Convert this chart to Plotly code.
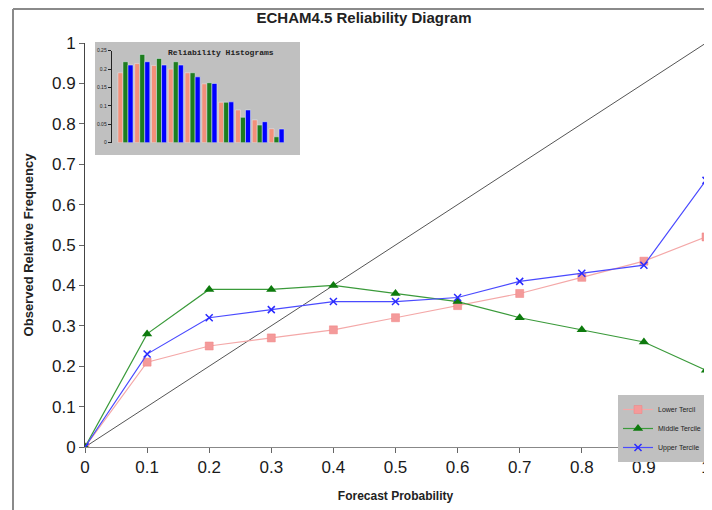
import plotly.graph_objects as go

# ---- data ----
forecast_prob = [0, 0.1, 0.2, 0.3, 0.4, 0.5, 0.6, 0.7, 0.8, 0.9, 1.0]
lower_tercile = [0, 0.21, 0.25, 0.27, 0.29, 0.32, 0.35, 0.38, 0.42, 0.46, 0.52]
middle_tercile = [0, 0.28, 0.39, 0.39, 0.40, 0.38, 0.36, 0.32, 0.29, 0.26, 0.19]
upper_tercile = [0, 0.23, 0.32, 0.34, 0.36, 0.36, 0.37, 0.41, 0.43, 0.45, 0.66]

hist_bins = [1, 2, 3, 4, 5, 6, 7, 8, 9, 10]
hist_lower = [0.19, 0.215, 0.21, 0.20, 0.19, 0.16, 0.11, 0.089, 0.062, 0.038]
hist_middle = [0.22, 0.24, 0.229, 0.22, 0.19, 0.163, 0.11, 0.069, 0.048, 0.016]
hist_upper = [0.211, 0.22, 0.211, 0.211, 0.179, 0.161, 0.111, 0.089, 0.057, 0.037]

y_ticks = [0, 0.1, 0.2, 0.3, 0.4, 0.5, 0.6, 0.7, 0.8, 0.9, 1]
x_ticks = [0, 0.1, 0.2, 0.3, 0.4, 0.5, 0.6, 0.7, 0.8, 0.9, 1]
hist_ticks = [0, 0.05, 0.1, 0.15, 0.2, 0.25]

# the page body has an 8px margin, so the figure is offset inside the window
OFF = 8
W, H = 712 - OFF, 510 - OFF
# plot area in window pixels: x 85..706, y 43..447
L = 85 - OFF
R = W - (706 - OFF)
T = 43 - OFF
B = H - (447 - OFF)
pw, ph = W - L - R, H - T - B


def px(x):
    """window pixel x -> paper x"""
    return (x - OFF - L) / pw


def py(y):
    """window pixel y -> paper y"""
    return (H - B - (y - OFF)) / ph


FONT = "Liberation Sans, Arial, sans-serif"

fig = go.Figure()

# perfect reliability diagonal
fig.add_trace(go.Scatter(x=[0, 1], y=[0, 1], mode="lines",
                         line=dict(color="#555555", width=1),
                         showlegend=False, hoverinfo="skip"))

fig.add_trace(go.Scatter(x=forecast_prob, y=lower_tercile, mode="lines+markers",
                         name="Lower Tercil",
                         line=dict(color="#f4a8a8", width=1.2),
                         marker=dict(symbol="square", size=8, color="#f49a9a",
                                     line=dict(color="#f08080", width=0.5))))
fig.add_trace(go.Scatter(x=forecast_prob, y=middle_tercile, mode="lines+markers",
                         name="Middle Tercile",
                         line=dict(color="#3a9a3a", width=1.2),
                         marker=dict(symbol="triangle-up", size=9, color="#0d7a0d")))
fig.add_trace(go.Scatter(x=forecast_prob, y=upper_tercile, mode="lines+markers",
                         name="Upper Tercile",
                         line=dict(color="#4a4aff", width=1.2),
                         marker=dict(symbol="x-thin", size=7, color="#2a2aff",
                                     line=dict(color="#2a2aff", width=1.5))))

# inset histogram
fig.add_trace(go.Bar(x=hist_bins, y=hist_lower, marker_color="#f2907a",
                     xaxis="x2", yaxis="y2", showlegend=False))
fig.add_trace(go.Bar(x=hist_bins, y=hist_middle, marker_color="#1e7d1e",
                     xaxis="x2", yaxis="y2", showlegend=False))
fig.add_trace(go.Bar(x=hist_bins, y=hist_upper, marker_color="#0000ff",
                     xaxis="x2", yaxis="y2", showlegend=False))

shapes = [
    # outer frame lines
    dict(type="line", xref="paper", yref="paper", x0=px(13), x1=px(712), y0=py(9), y1=py(9),
         line=dict(color="#8a8a8a", width=2)),
    dict(type="line", xref="paper", yref="paper", x0=px(13), x1=px(13), y0=py(9), y1=py(510),
         line=dict(color="#8a8a8a", width=2)),
    # right border of plot
    dict(type="line", xref="paper", yref="paper", x0=1, x1=1, y0=0, y1=1,
         line=dict(color="#cccccc", width=1)),
    # inset background
    dict(type="rect", xref="paper", yref="paper", x0=px(95), x1=px(300), y0=py(155), y1=py(42),
         fillcolor="#c0c0c0", line=dict(width=0), layer="below"),
]

fig.update_layout(
    width=W, height=H,
    margin=dict(l=L, r=R, t=T, b=B, autoexpand=False),
    paper_bgcolor="white", plot_bgcolor="rgba(0,0,0,0)",
    font=dict(family=FONT, color="#222222"),
    title=dict(text="<b>ECHAM4.5 Reliability Diagram</b>", x=(364 - OFF) / W, xref="container",
               xanchor="center", y=1 - (18 - OFF) / H, yanchor="middle",
               font=dict(size=15, color="#222222")),
    xaxis=dict(range=[0, 1], tickvals=x_ticks, ticktext=[f"{v:g}" for v in x_ticks],
               showgrid=False, zeroline=False, showline=True, linecolor="#888888",
               ticks="outside", ticklen=5, tickcolor="#666666", automargin=False,
               tickfont=dict(size=17, color="#1a1a1a"),
               title=dict(text="<b>Forecast Probability</b>", font=dict(size=12))),
    yaxis=dict(range=[0, 1], tickvals=y_ticks, ticktext=[f"{v:g}" for v in y_ticks],
               showgrid=False, zeroline=False, showline=True, linecolor="#444444",
               ticks="outside", ticklen=5, tickcolor="#666666", automargin=False,
               tickfont=dict(size=17, color="#1a1a1a"),
               title=dict(text="<b>Observed Relative Frequency</b>", font=dict(size=13))),
    xaxis2=dict(domain=[px(111.7), px(288.3)], range=[0.18, 10.7], anchor="y2",
                showticklabels=False, showgrid=False, zeroline=False,
                showline=False, ticks="", automargin=False),
    yaxis2=dict(domain=[py(142.7), py(50.7)], range=[0, 0.25], anchor="x2",
                tickvals=hist_ticks, ticktext=[f"{v:g}" for v in hist_ticks],
                showgrid=False, zeroline=False, showline=True, linecolor="#222222",
                ticks="outside", ticklen=3, tickcolor="#222222", automargin=False,
                tickfont=dict(size=5, color="#222222")),
    barmode="group", bargap=0.1, bargroupgap=0,
    legend=dict(x=1, y=py(395), xanchor="right", yanchor="top",
                bgcolor="#c0c0c0", borderwidth=0, font=dict(size=7, color="#222222"),
                tracegroupgap=0, itemwidth=30),
    shapes=shapes,
    annotations=[
        dict(text="<b>Reliability Histograms</b>", xref="paper", yref="paper",
             x=px(221), y=py(52), xanchor="center", yanchor="middle", showarrow=False,
             font=dict(family="Liberation Mono, Courier New, monospace", size=8, color="#222222")),
    ],
)

fig.write_html("out.html")
